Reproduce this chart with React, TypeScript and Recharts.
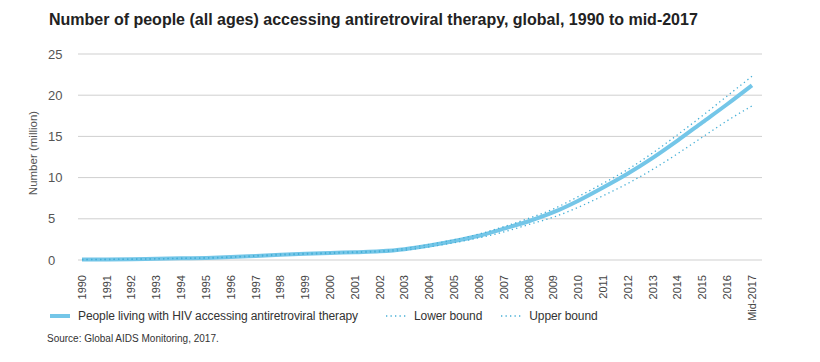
import React from 'react'
import { LineChart, Line, CartesianGrid, XAxis, YAxis } from 'recharts';

const years = [
  '1990', '1991', '1992', '1993', '1994', '1995', '1996', '1997', '1998', '1999',
  '2000', '2001', '2002', '2003', '2004', '2005', '2006', '2007', '2008', '2009',
  '2010', '2011', '2012', '2013', '2014', '2015', '2016', 'Mid-2017',
];

// million people
const onTreatment = [
  0.05, 0.07, 0.1, 0.15, 0.2, 0.25, 0.35, 0.5, 0.65, 0.75,
  0.85, 0.95, 1.05, 1.3, 1.75, 2.3, 2.95, 3.8, 4.7, 5.8,
  7.2, 8.8, 10.5, 12.4, 14.5, 16.7, 18.9, 21.2,
];
const lowerBound = [
  0.04, 0.06, 0.09, 0.13, 0.18, 0.22, 0.32, 0.45, 0.6, 0.7,
  0.8, 0.9, 1.0, 1.2, 1.6, 2.1, 2.7, 3.4, 4.3, 5.2,
  6.4, 7.8, 9.3, 11.0, 12.9, 14.9, 16.9, 18.7,
];
const upperBound = [
  0.06, 0.08, 0.11, 0.16, 0.22, 0.28, 0.38, 0.55, 0.7, 0.8,
  0.9, 1.0, 1.1, 1.4, 1.9, 2.45, 3.15, 4.05, 5.05, 6.2,
  7.7, 9.3, 11.0, 13.0, 15.2, 17.5, 19.9, 22.3,
];
const yTicks = [0, 5, 10, 15, 20, 25];

const data = years.map((year, i) => ({
  year,
  main: onTreatment[i],
  lower: lowerBound[i],
  upper: upperBound[i],
}));

const font = '"Liberation Sans", Arial, Helvetica, sans-serif';
const mainColor = '#74c6e8';
const boundColor = '#45afd6';

const XTick = (props: any) => {
  const { x, y, payload } = props;
  return (
    <text
      transform={`translate(${x},${y + 7}) rotate(-90)`}
      textAnchor="end"
      dy="0.35em"
      fontSize={11}
      fill="#444"
      fontFamily={font}
    >
      {payload.value}
    </text>
  );
};

const YTick = (props: any) => {
  const { y, payload } = props;
  return (
    <text x={48} y={y} dy="0.35em" textAnchor="start" fontSize={13} fill="#555" fontFamily={font}>
      {payload.value}
    </text>
  );
};

const legendItems = [
  { label: 'People living with HIV accessing antiretroviral therapy', dotted: false, gap: 28 },
  { label: 'Lower bound', dotted: true, gap: 19 },
  { label: 'Upper bound', dotted: true, gap: 0 },
];

const App: React.FC = () => {
  return (
    <div style={{ position: 'relative', width: 820, height: 362, margin: -8, background: '#fff', fontFamily: font }}>
      <div style={{ position: 'absolute', left: 49, top: 11, fontSize: 16, fontWeight: 'bold', color: '#222', whiteSpace: 'nowrap' }}>
        Number of people (all ages) accessing antiretroviral therapy, global, 1990 to mid-2017
      </div>
      <div style={{ position: 'absolute', left: 0, top: 0 }}>
        <LineChart
          width={820}
          height={362}
          data={data}
          margin={{ top: 54, right: 58, left: 0, bottom: 0 }}
        >
          <CartesianGrid vertical={false} stroke="#cfcfcf" />
          <XAxis
            dataKey="year"
            interval={0}
            axisLine={false}
            tickLine={false}
            height={102}
            padding={{ left: 4, right: 10 }}
            tick={<XTick />}
          />
          <YAxis
            width={78}
            domain={[0, 25]}
            ticks={yTicks}
            axisLine={false}
            tickLine={false}
            tick={<YTick />}
            label={{
              value: 'Number (million)',
              angle: -90,
              position: 'insideLeft',
              dx: 28,
              dy: -4,
              style: { fontSize: 11.5, fill: '#555', fontFamily: font, textAnchor: 'middle' },
            }}
          />
          <Line type="monotone" dataKey="main" stroke={mainColor} strokeWidth={4} dot={false} isAnimationActive={false} />
          <Line type="monotone" dataKey="lower" stroke={boundColor} strokeWidth={1.3} strokeDasharray="1.3 3.2" dot={false} isAnimationActive={false} />
          <Line type="monotone" dataKey="upper" stroke={boundColor} strokeWidth={1.3} strokeDasharray="1.3 3.2" dot={false} isAnimationActive={false} />
        </LineChart>
      </div>
      <div style={{ position: 'absolute', left: 50, top: 309, display: 'flex', alignItems: 'center', fontSize: 12, letterSpacing: -0.1, color: '#333', whiteSpace: 'nowrap' }}>
        {legendItems.map((item) => (
          <div key={item.label} style={{ display: 'flex', alignItems: 'center', marginRight: item.gap }}>
            <svg width={20} height={8} style={{ marginRight: 8 }}>
              {item.dotted ? (
                <line x1={0} y1={4} x2={20} y2={4} stroke={boundColor} strokeWidth={1.3} strokeDasharray="1.3 3.2" />
              ) : (
                <line x1={0} y1={4} x2={20} y2={4} stroke={mainColor} strokeWidth={4} />
              )}
            </svg>
            <span>{item.label}</span>
          </div>
        ))}
      </div>
      <div style={{ position: 'absolute', left: 47, top: 333, fontSize: 10, color: '#333', whiteSpace: 'nowrap' }}>
        Source: Global AIDS Monitoring, 2017.
      </div>
    </div>
  )
}

export default App
